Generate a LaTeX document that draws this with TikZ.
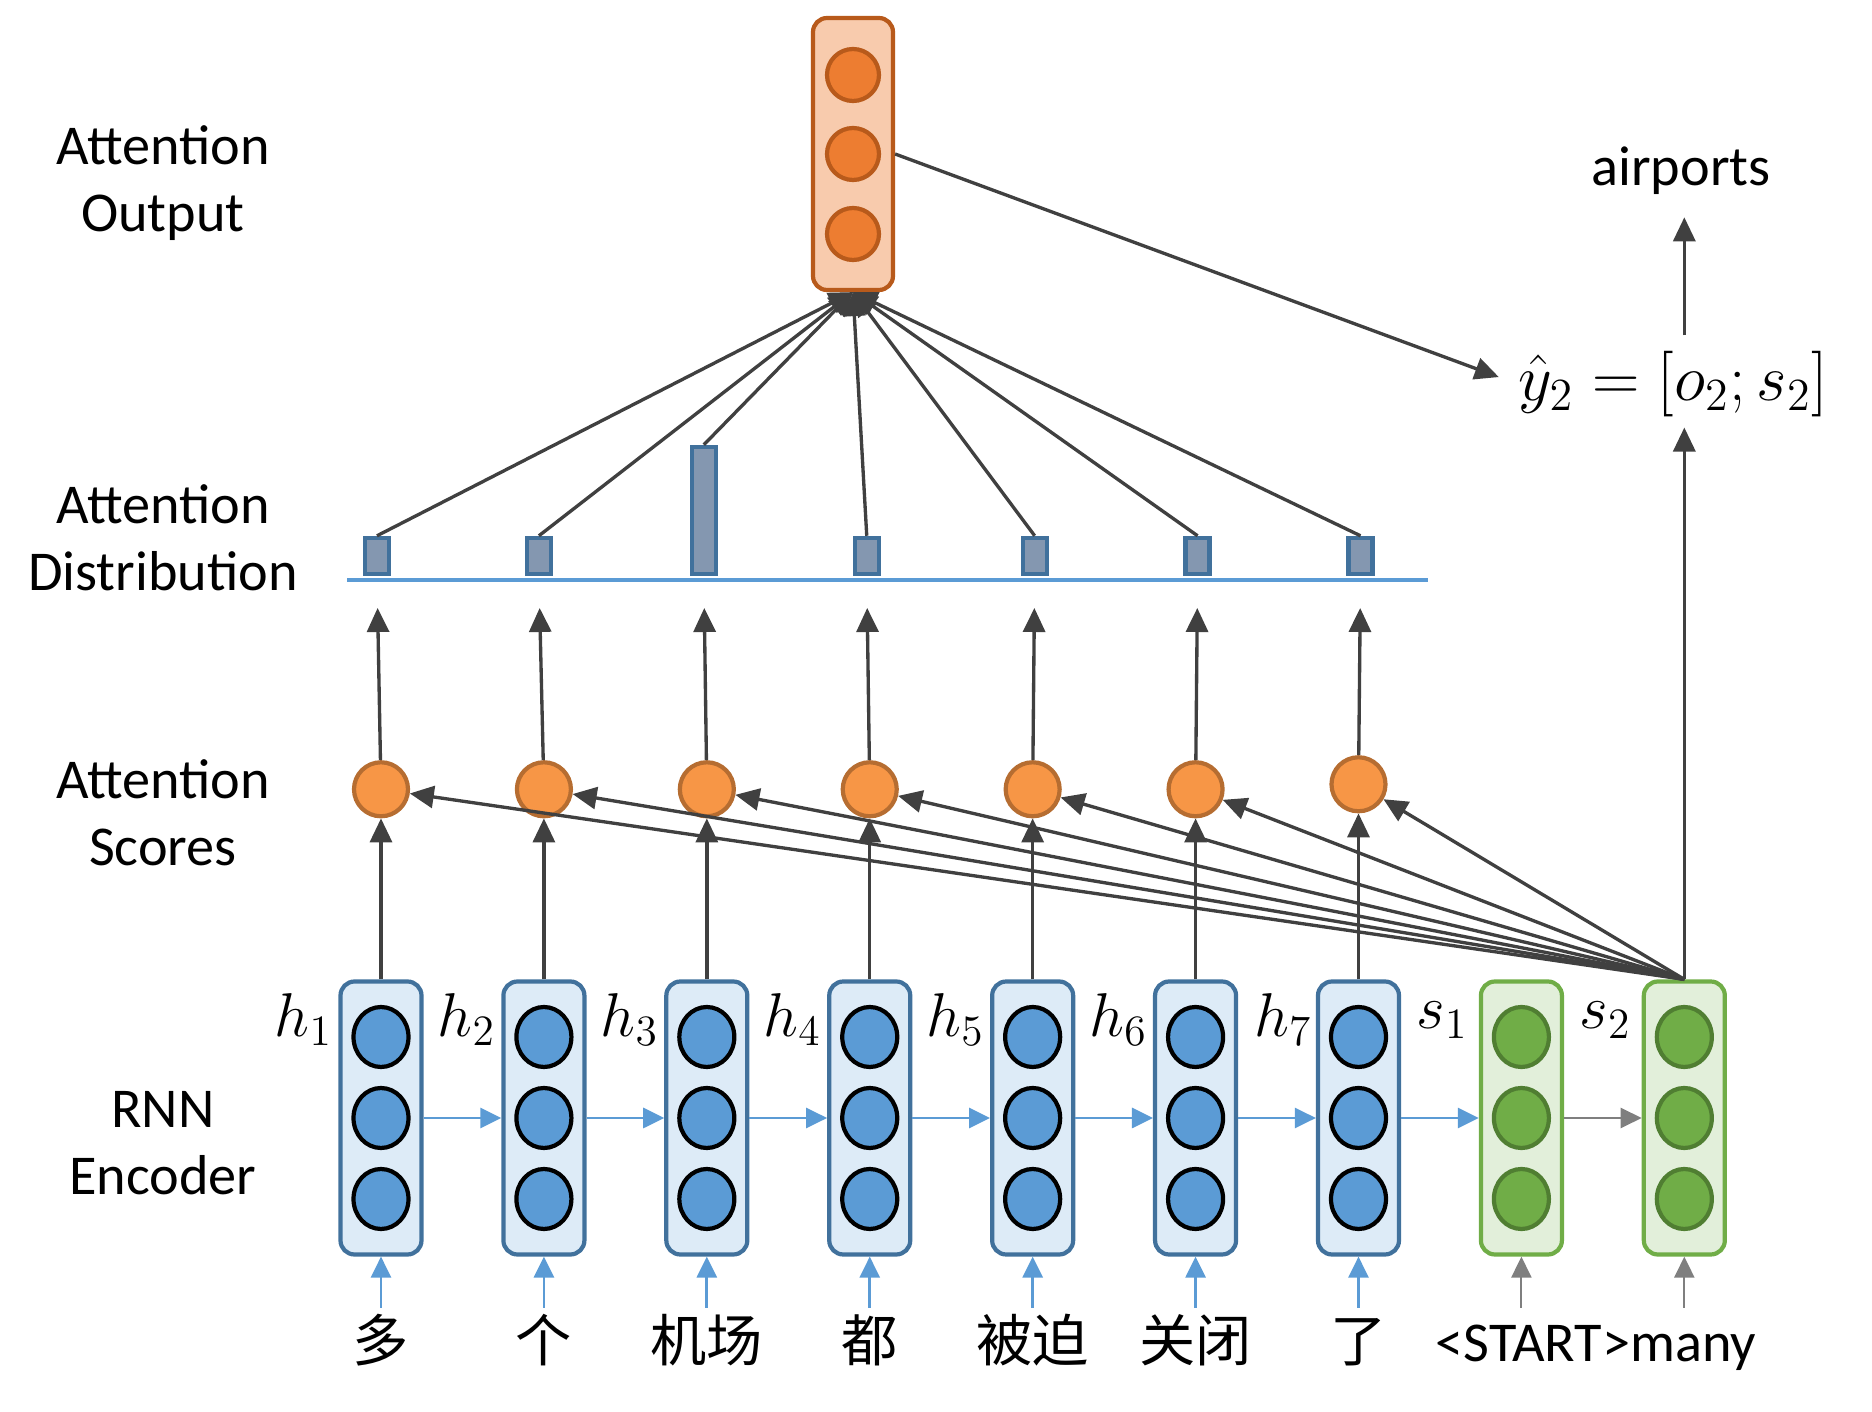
\RequirePackage{fix-cm}
\documentclass[tikz,border=0pt]{standalone}
\usepackage{fontspec}
\setmainfont{Carlito}
\newfontfamily\cjk{Noto Sans CJK SC}
\usepackage{tikz}
\usetikzlibrary{shapes.geometric, arrows.meta, positioning}

\definecolor{encfill}{RGB}{221,235,247}
\definecolor{encdraw}{RGB}{65,113,156}
\definecolor{encdot}{RGB}{91,155,213}
\definecolor{decfill}{RGB}{226,239,218}
\definecolor{decdraw}{RGB}{112,173,71}
\definecolor{decdotdraw}{RGB}{80,126,50}
\definecolor{outfill}{RGB}{248,203,173}
\definecolor{outdraw}{RGB}{184,90,27}
\definecolor{outdot}{RGB}{237,125,49}
\definecolor{scorefill}{RGB}{247,150,70}
\definecolor{scoredraw}{RGB}{182,109,49}
\definecolor{barfill}{RGB}{132,151,176}
\definecolor{darkline}{RGB}{64,64,64}
\definecolor{greyline}{RGB}{127,127,127}

\tikzset{
    vecbox/.style = {
        rectangle,
        draw,
        rounded corners=4pt,
        line width=1.2pt,
        minimum width=0.81cm,
        minimum height=2.73cm,
        inner sep=0pt
    },
    encbox/.style = {vecbox, draw=encdraw, fill=encfill},
    decbox/.style = {vecbox, draw=decdraw, fill=decfill},
    encdot/.style = {
        ellipse, 
        draw=black, 
        line width=1.2pt,
        fill=encdot, 
        minimum width=0.55cm, 
        minimum height=0.6cm,
        inner sep=0pt
    },
    decdot/.style = {encdot, draw=decdotdraw, fill=decdraw},
    line/.style = {
        draw=darkline,
        line width=0.95pt,
        -{Triangle[length=0.24cm, width=0.22cm]}
    }
}

\begin{document}
\begin{tikzpicture}[
    node distance=0.777cm, % gap between the state boxes
    every node/.style={align=center},
    rowtitle/.style={font=\fontsize{16}{19}\selectfont},
    word/.style={font=\fontsize{16}{19}\selectfont, anchor=base, text height=0.5cm, text depth=0.1cm, inner sep=1pt},
    statename/.style={font=\fontsize{17.6}{21}\selectfont, inner sep=0pt},
    score/.style={circle, draw=scoredraw, line width=1.2pt, fill=scorefill, minimum size=0.54cm, inner sep=0pt},
    bar/.style={rectangle, draw=encdraw, line width=1.2pt, fill=barfill, minimum width=0.24cm, inner sep=0pt, anchor=south},
    outdot/.style={circle, draw=outdraw, line width=1.2pt, fill=outdot, minimum size=0.52cm, inner sep=0pt},
    encline/.style={draw=encdot, line width=0.8pt, -{Triangle[length=0.21cm, width=0.2cm]}},
    greyline/.style={draw=greyline, line width=0.6pt, -{Triangle[length=0.21cm, width=0.2cm]}}
]
\useasboundingbox (0,0) rectangle (18.72,-14.12);

% Row titles
\node [rowtitle] (t-out) at (1.63,-1.83) {Attention\\Output};
\node [rowtitle] (t-dist) at (1.63,-5.38) {Attention\\Distribution};
\node [rowtitle] (t-score) at (1.63,-8.13) {Attention\\Scores};
\node [rowtitle] (t-enc) at (1.63,-11.43) {RNN\\Encoder};

% Encoder and decoder states
\node [encbox] (h1) at (3.81,-11.18) {};
\node [encbox, right=of h1] (h2) {};
\node [encbox, right=of h2] (h3) {};
\node [encbox, right=of h3] (h4) {};
\node [encbox, right=of h4] (h5) {};
\node [encbox, right=of h5] (h6) {};
\node [encbox, right=of h6] (h7) {};
\node [decbox, right=of h7] (s1) {};
\node [decbox, right=of s1] (s2) {};

\foreach \n in {h1,h2,h3,h4,h5,h6,h7} {
    \node [encdot] (\n-a) at ([yshift=0.81cm]\n.center) {};
    \node [encdot] (\n-b) at (\n.center) {};
    \node [encdot] (\n-c) at ([yshift=-0.81cm]\n.center) {};
}
\foreach \n in {s1,s2} {
    \node [decdot] (\n-a) at ([yshift=0.81cm]\n.center) {};
    \node [decdot] (\n-b) at (\n.center) {};
    \node [decdot] (\n-c) at ([yshift=-0.81cm]\n.center) {};
}

% State names
\node [statename, below left=0.13cm and 0.05cm of h1.north west] (n1) {$h_1$};
\node [statename, below left=0.13cm and 0.05cm of h2.north west] (n2) {$h_2$};
\node [statename, below left=0.13cm and 0.05cm of h3.north west] (n3) {$h_3$};
\node [statename, below left=0.13cm and 0.05cm of h4.north west] (n4) {$h_4$};
\node [statename, below left=0.13cm and 0.05cm of h5.north west] (n5) {$h_5$};
\node [statename, below left=0.13cm and 0.05cm of h6.north west] (n6) {$h_6$};
\node [statename, below left=0.13cm and 0.03cm of h7.north west] (n7) {$h_7$};
\node [statename, below left=0.22cm and 0.1cm of s1.north west] (m1) {$s_1$};
\node [statename, below left=0.22cm and 0.1cm of s2.north west] (m2) {$s_2$};

% Source and target words
\node [word] (w1) at (h1 |- 0,-13.62) {\cjk 多};
\node [word] (w2) at (h2 |- 0,-13.62) {\cjk 个};
\node [word] (w3) at (h3 |- 0,-13.62) {\cjk 机场};
\node [word] (w4) at (h4 |- 0,-13.62) {\cjk 都};
\node [word] (w5) at (h5 |- 0,-13.62) {\cjk 被迫};
\node [word] (w6) at (h6 |- 0,-13.62) {\cjk 关闭};
\node [word] (w7) at (h7 |- 0,-13.62) {\cjk 了};
\node [word] (w8) at (15.96,-13.62) {<START>many};

\draw [encline] (w1.north) -- (h1.south);
\draw [encline] (w2.north) -- (h2.south);
\draw [encline] (w3.north) -- (h3.south);
\draw [encline] (w4.north) -- (h4.south);
\draw [encline] (w5.north) -- (h5.south);
\draw [encline] (w6.north) -- (h6.south);
\draw [encline] (w7.north) -- (h7.south);
\draw [greyline] (w8.north -| s1) -- (s1.south);
\draw [greyline] (w8.north -| s2) -- (s2.south);

% Recurrent connections
\draw [encline] (h1.east) -- (h2.west);
\draw [encline] (h2.east) -- (h3.west);
\draw [encline] (h3.east) -- (h4.west);
\draw [encline] (h4.east) -- (h5.west);
\draw [encline] (h5.east) -- (h6.west);
\draw [encline] (h6.east) -- (h7.west);
\draw [encline] (h7.east) -- (s1.west);
\draw [greyline] (s1.east) -- (s2.west);

% Attention scores
\node [score, above=1.61cm of h1] (c1) {};
\node [score, above=1.61cm of h2] (c2) {};
\node [score, above=1.61cm of h3] (c3) {};
\node [score, above=1.61cm of h4] (c4) {};
\node [score, above=1.61cm of h5] (c5) {};
\node [score, above=1.61cm of h6] (c6) {};
\node [score, above=1.66cm of h7] (c7) {};

\draw [line] (h1) -- (c1);
\draw [line] (h2) -- (c2);
\draw [line] (h3) -- (c3);
\draw [line] (h4) -- (c4);
\draw [line] (h5) -- (c5);
\draw [line] (h6) -- (c6);
\draw [line] (h7) -- (c7);

\draw [line] (s2.north) -- (c1);
\draw [line] (s2.north) -- (c2);
\draw [line] (s2.north) -- (c3);
\draw [line] (s2.north) -- (c4);
\draw [line] (s2.north) -- (c5);
\draw [line] (s2.north) -- (c6);
\draw [line] (s2.north) -- (c7);

% Attention distribution
\draw [draw=encdot, line width=1pt] (3.47,-5.80) -- (14.28,-5.80);
\node [bar, minimum height=0.36cm] (b1) at ([xshift=-0.04cm]c1 |- 0,-5.76) {};
\node [bar, minimum height=0.36cm] (b2) at ([xshift=-0.05cm]c2 |- 0,-5.76) {};
\node [bar, minimum height=1.27cm] (b3) at ([xshift=-0.03cm]c3 |- 0,-5.76) {};
\node [bar, minimum height=0.36cm] (b4) at ([xshift=-0.03cm]c4 |- 0,-5.76) {};
\node [bar, minimum height=0.36cm] (b5) at ([xshift=0.02cm]c5 |- 0,-5.76) {};
\node [bar, minimum height=0.36cm] (b6) at ([xshift=0.02cm]c6 |- 0,-5.76) {};
\node [bar, minimum height=0.36cm] (b7) at ([xshift=0.02cm]c7 |- 0,-5.76) {};

\draw [line, shorten >=0.32cm] (c1) -- (b1.south);
\draw [line, shorten >=0.32cm] (c2) -- (b2.south);
\draw [line, shorten >=0.32cm] (c3) -- (b3.south);
\draw [line, shorten >=0.32cm] (c4) -- (b4.south);
\draw [line, shorten >=0.32cm] (c5) -- (b5.south);
\draw [line, shorten >=0.32cm] (c6) -- (b6.south);
\draw [line, shorten >=0.32cm] (c7) -- (b7.south);

% Attention output
\node [vecbox, draw=outdraw, fill=outfill, minimum width=0.80cm, minimum height=2.72cm] (out) at (8.53,-1.54) {};
\node [outdot] (out-a) at ([yshift=0.79cm]out.center) {};
\node [outdot] (out-b) at (out.center) {};
\node [outdot] (out-c) at ([yshift=-0.80cm]out.center) {};

\draw [line] (b1.north) -- (out.south);
\draw [line] (b2.north) -- (out.south);
\draw [line] (b3.north) -- (out.south);
\draw [line] (b4.north) -- (out.south);
\draw [line] (b5.north) -- (out.south);
\draw [line] (b6.north) -- (out.south);
\draw [line] (b7.north) -- (out.south);

% Prediction
\node [statename, font=\fontsize{18.7}{21}\selectfont] (eq) at (16.73,-3.84) {$\hat{y}_2 = [o_2; s_2]$};
\node [rowtitle] (air) at (16.81,-1.71) {airports};

\draw [line, shorten >=0.2cm] (out.east) -- (eq.west);
\draw [line, shorten >=0.1cm] (s2.north) -- (s2.north |- eq.south);
\draw [line, shorten <=0.15cm, shorten >=0.1cm] (s2 |- eq.north) -- (s2 |- air.south);

\end{tikzpicture}
\end{document}
